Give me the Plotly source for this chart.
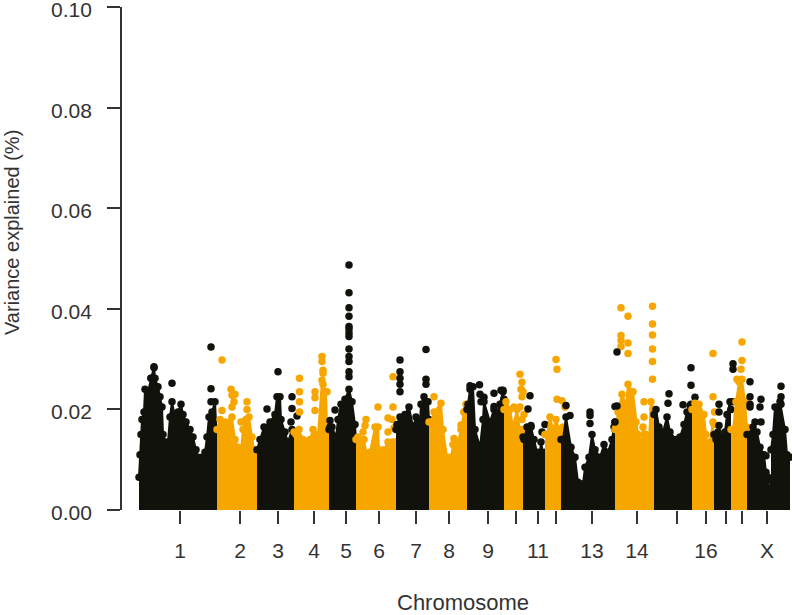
import plotly.graph_objects as go

BLACK = "#12120c"
ORANGE = "#f7a600"

tick_positions = [180, 240, 278, 314, 346, 379, 416, 449, 488, 516, 538, 556, 592, 637, 677, 706, 726, 742, 767]
tick_labels = ["1", "2", "3", "4", "5", "6", "7", "8", "9", "", "11", "", "13", "14", "", "16", "", "", "X"]
y_ticks = [0.0, 0.02, 0.04, 0.06, 0.08, 0.10]
y_tick_labels = ["0.00", "0.02", "0.04", "0.06", "0.08", "0.10"]

chr1_pos = [139,140,141,142,144,145,148,151,154,155,158,160,162,163,165,168,170,172,175,178,181,183,186,190,193,196,198,202,205,207,209,212,215,217]
chr1_var = [.0065,.011,.015,.018,.0195,.024,.0235,.0262,.0285,.0262,.0245,.0225,.0205,.015,.0135,.0135,.0185,.0215,.0185,.0195,.021,.019,.0175,.016,.0145,.012,.0105,.0105,.0115,.0145,.0185,.0195,.0215,.0135]
chr1_top_pos = [211,211,211,172,154,151]
chr1_top_var = [.0324,.0241,.0215,.0252,.0283,.0262]

chr2_pos = [217,220,225,232,235,238,241,243,246,249,252,254,257]
chr2_var = [.016,.018,.0175,.0185,.014,.0125,.012,.016,.018,.0185,.0145,.012,.0115]
chr2_top_pos = [222,222,231,232,235,232,234,247,247,241]
chr2_top_var = [.0298,.0198,.024,.0228,.023,.0205,.0215,.0215,.02,.0175]

chr3_pos = [257,260,264,270,275,277,280,281,285,288,292,294]
chr3_var = [.012,.014,.0165,.0175,.019,.0225,.0225,.018,.0155,.0135,.016,.0155]
chr3_top_pos = [267,278,292,292,297,291]
chr3_top_var = [.0201,.0275,.0225,.0202,.0187,.0175]

chr4_pos = [294,296,299,303,310,313,318,322,326,327,329]
chr4_var = [.0155,.015,.016,.014,.014,.016,.015,.0258,.0235,.0165,.016]
chr4_top_pos = [299.5,299.5,299.5,299.5,315,315,315,322,322,323,323,323,327]
chr4_top_var = [.0262,.0235,.0215,.0195,.0235,.0223,.0198,.0305,.0295,.0278,.0272,.025,.0235]

chr5_pos = [329,330,332,336,338,341,345,349,352,355,356]
chr5_var = [.016,.0165,.0165,.0145,.018,.021,.022,.024,.0215,.017,.014]
chr5_top_pos = [349,349,349,349,349,349,349,349,349,349,349,349,349,335,330]
chr5_top_var = [.0487,.0432,.0402,.0385,.0365,.036,.0352,.0345,.032,.0305,.0295,.0275,.0265,.0199,.0178]

chr6_pos = [356,358,364,368,370,375,378,379,382,384,388,393,396]
chr6_var = [.014,.0145,.014,.0095,.0115,.0165,.0165,.012,.0105,.012,.0135,.0135,.0135]
chr6_top_pos = [365,366,363,378,388,392,393,394,388,393]
chr6_top_var = [.0168,.018,.0155,.0205,.0183,.018,.0205,.0163,.0155,.0265]

chr7_pos = [396,397,400,405,409,413,416,420,421,424,428,429]
chr7_var = [.016,.017,.0185,.019,.0205,.0165,.0185,.0175,.021,.0225,.0215,.018]
chr7_top_pos = [400,400,400,400,400,426,426,426]
chr7_top_var = [.0298,.0275,.0262,.025,.0235,.0319,.026,.025]

chr8_pos = [429,431,434,441,443,447,451,453,458,461,464,466,467]
chr8_var = [.0175,.0175,.0195,.0212,.016,.0105,.0105,.013,.0135,.016,.0195,.021,.02]
chr8_top_pos = [434,454,461,464]
chr8_top_var = [.0225,.0142,.0169,.0195]

chr9_pos = [467,468,470,473,475,480,483,484,490,494,497,500,503,504]
chr9_var = [.02,.021,.024,.0245,.016,.0125,.018,.0215,.0175,.02,.019,.021,.0235,.022]
chr9_top_pos = [479.5,480,481,484,494,494,503,501,470]
chr9_top_var = [.0249,.023,.0215,.0224,.0232,.0206,.0238,.0238,.0247]

chr10_pos = [504,506,510,513,517,520,522,523]
chr10_var = [.02,.0215,.02,.0165,.02,.0155,.016,.016]
chr10_top_pos = [520,522,521,523,522,514,520,524,522]
chr10_top_var = [.027,.0254,.024,.0235,.0225,.0205,.0205,.019,.018]

chr11_pos = [523,524,527,531,534,537,540,541,544,545]
chr11_var = [.0145,.014,.0165,.0165,.014,.0115,.0115,.0135,.0105,.0115]
chr11_top_pos = [530,528,531,545,542]
chr11_top_var = [.0227,.0201,.0168,.017,.0155]

chr12_pos = [545,547,550,553,556,559,561]
chr12_var = [.015,.015,.0185,.016,.018,.016,.015]
chr12_top_pos = [556,557,557,562,565,563]
chr12_top_var = [.0299,.028,.022,.0217,.0205,.0165]

chr13_pos = [561,563,566,571,575,578,583,585,589,592,595,600,604,608,612,614,615]
chr13_var = [.014,.014,.0185,.0125,.0105,.0055,.0052,.0085,.0105,.015,.012,.0105,.013,.0115,.014,.0165,.016]
chr13_top_pos = [566,570,590,590,590,615,615]
chr13_top_var = [.0208,.0188,.0195,.0188,.0172,.0206,.0175]

chr14_pos = [615,616,618,622,626,628,633,636,638,641,643,646,649,651,653,654]
chr14_var = [.016,.0165,.0195,.023,.021,.025,.0235,.0175,.015,.0135,.0165,.015,.014,.0215,.02,.02]
chr14_top_pos = [621,628,621,621,628,621,628,652.5,652.5,652.5,652.5,652.5,652.5,644,644]
chr14_top_var = [.0402,.0385,.0347,.0337,.0332,.0325,.0311,.0405,.037,.0348,.032,.0295,.026,.0215,.0185]

chr15_pos = [654,656,659,663,667,670,676,680,684,687,691,692]
chr15_var = [.019,.02,.0165,.0155,.0185,.0155,.014,.0145,.017,.0195,.021,.02]
chr15_top_pos = [669,668,683,691,691,695,690,689,617,617,615]
chr15_top_var = [.0231,.0212,.0209,.0283,.0248,.0224,.0208,.0185,.0314,.0207,.0175]

chr16_pos = [692,695,699,704,706,708,710,713,714]
chr16_var = [.02,.0212,.021,.019,.015,.0115,.0135,.0175,.017]
chr16_top_pos = [713,713,714.5]
chr16_top_var = [.0311,.0225,.0195]

chr17_pos = [714,716,718,722,725,727,730,731]
chr17_var = [.015,.014,.0155,.0145,.0155,.019,.0215,.02]
chr17_top_pos = [719,719,719,733,733,733]
chr17_top_var = [.021,.0195,.0168,.0291,.028,.0215]

chr18_pos = [731,733,736,739,742,745,747,748]
chr18_var = [.016,.016,.0215,.0255,.026,.0215,.0165,.016]
chr18_top_pos = [742,742,741,737]
chr18_top_var = [.0334,.0297,.028,.026]

chr19_pos = [747,749,753,757,760,764,766,768,769,771]
chr19_var = [.015,.015,.0165,.0155,.0125,.011,.0075,.0065,.0025,.006]
chr19_top_pos = [750,750,750,750,761,760,761,755,766]
chr19_top_var = [.0255,.0225,.021,.0205,.022,.0205,.0175,.0175,.0108]

chrX_pos = [771,773,775,780,785,787,790]
chrX_var = [.012,.015,.0205,.0215,.016,.011,.0105]
chrX_top_pos = [781,781,781]
chrX_top_var = [.0246,.0225,.021]

tracks = [
    (chr1_pos, chr1_var, chr1_top_pos, chr1_top_var, BLACK),
    (chr2_pos, chr2_var, chr2_top_pos, chr2_top_var, ORANGE),
    (chr3_pos, chr3_var, chr3_top_pos, chr3_top_var, BLACK),
    (chr4_pos, chr4_var, chr4_top_pos, chr4_top_var, ORANGE),
    (chr5_pos, chr5_var, chr5_top_pos, chr5_top_var, BLACK),
    (chr6_pos, chr6_var, chr6_top_pos, chr6_top_var, ORANGE),
    (chr7_pos, chr7_var, chr7_top_pos, chr7_top_var, BLACK),
    (chr8_pos, chr8_var, chr8_top_pos, chr8_top_var, ORANGE),
    (chr9_pos, chr9_var, chr9_top_pos, chr9_top_var, BLACK),
    (chr10_pos, chr10_var, chr10_top_pos, chr10_top_var, ORANGE),
    (chr11_pos, chr11_var, chr11_top_pos, chr11_top_var, BLACK),
    (chr12_pos, chr12_var, chr12_top_pos, chr12_top_var, ORANGE),
    (chr13_pos, chr13_var, chr13_top_pos, chr13_top_var, BLACK),
    (chr14_pos, chr14_var, chr14_top_pos, chr14_top_var, ORANGE),
    (chr15_pos, chr15_var, chr15_top_pos, chr15_top_var, BLACK),
    (chr16_pos, chr16_var, chr16_top_pos, chr16_top_var, ORANGE),
    (chr17_pos, chr17_var, chr17_top_pos, chr17_top_var, BLACK),
    (chr18_pos, chr18_var, chr18_top_pos, chr18_top_var, ORANGE),
    (chr19_pos, chr19_var, chr19_top_pos, chr19_top_var, BLACK),
    (chrX_pos, chrX_var, chrX_top_pos, chrX_top_var, BLACK),
]

fig = go.Figure()
for pos, var, top_pos, top_var, colour in tracks:
    fig.add_trace(go.Scatter(
        x=pos, y=var, mode="lines+markers", fill="tozeroy", fillcolor=colour,
        line=dict(color=colour, width=2), marker=dict(color=colour, size=7.5),
        showlegend=False, hoverinfo="skip"))
    fig.add_trace(go.Scatter(
        x=top_pos, y=top_var, mode="markers", marker=dict(color=colour, size=7.5),
        showlegend=False, hoverinfo="skip"))

TEXT = "#333333"
FONT = "Liberation Sans"
annotations = [
    dict(text="Chromosome", xref="paper", yref="paper", x=(463-122)/670, y=-(602.5-510)/503,
         xanchor="center", yanchor="middle", showarrow=False, font=dict(size=22, color=TEXT, family=FONT)),
    dict(text="Variance explained (%)", xref="paper", yref="paper", x=-(122-12)/670, y=(510-233)/503,
         xanchor="center", yanchor="middle", textangle=-90, showarrow=False,
         font=dict(size=20, color=TEXT, family=FONT)),
]
for value, label in zip(y_ticks, y_tick_labels):
    annotations.append(dict(text=label, xref="paper", yref="y", x=-(122-94)/670, y=value,
                            xanchor="right", yanchor="middle", yshift=-2.5, showarrow=False,
                            font=dict(size=21, color=TEXT, family=FONT)))

fig.update_layout(
    width=792, height=615, autosize=False,
    margin=dict(l=122, r=0, t=7, b=105, autoexpand=False),
    plot_bgcolor="white", paper_bgcolor="white",
    font=dict(family=FONT, size=21, color=TEXT),
    xaxis=dict(range=[122, 792], showgrid=False, zeroline=False, showline=False,
               ticks="outside", ticklen=13, tickwidth=1.5, tickcolor=TEXT,
               tickmode="array", tickvals=tick_positions, ticktext=tick_labels,
               ticklabelstandoff=9, ticklabeloverflow="allow", automargin=False),
    yaxis=dict(range=[0, 0.1], showgrid=False, zeroline=False, showline=True,
               linewidth=1.5, linecolor=TEXT,
               ticks="outside", ticklen=13, tickwidth=1.5, tickcolor=TEXT,
               tickmode="array", tickvals=y_ticks, showticklabels=False, automargin=False),
    annotations=annotations,
)
fig.write_html("out.html", config={"displayModeBar": False},
               post_script="document.body.style.margin='0';document.documentElement.style.overflow='hidden';")
